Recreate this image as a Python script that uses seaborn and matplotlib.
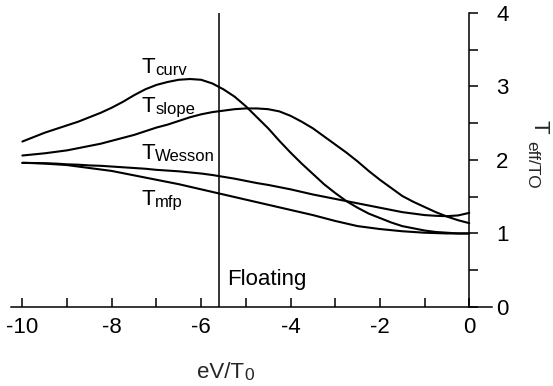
import pandas as pd
import matplotlib
matplotlib.use('Agg')
import matplotlib.pyplot as plt
import seaborn as sns
from matplotlib.ticker import MultipleLocator

sns.set_theme(style='white')
plt.rcParams['font.family'] = ['Liberation Sans', 'DejaVu Sans']
plt.rcParams['axes.unicode_minus'] = False

# data (every 0.25 in eV/T0)
ev = [-10, -9.75, -9.5, -9.25, -9, -8.75, -8.5, -8.25, -8, -7.75, -7.5,
      -7.25, -7, -6.75, -6.5, -6.25, -6, -5.75, -5.5, -5.25, -5,
      -4.75, -4.5, -4.25, -4, -3.75, -3.5, -3.25, -3, -2.75, -2.5,
      -2.25, -2, -1.75, -1.5, -1.25, -1, -0.75, -0.5, -0.25, 0]
t_curv = [2.25, 2.31, 2.37, 2.42, 2.47, 2.52, 2.58, 2.64, 2.71, 2.79, 2.88,
          2.96, 3.02, 3.06, 3.09, 3.10, 3.09, 3.04, 2.96, 2.86, 2.73,
          2.58, 2.43, 2.26, 2.10, 1.95, 1.81, 1.67, 1.55, 1.44, 1.35,
          1.27, 1.21, 1.15, 1.10, 1.07, 1.04, 1.02, 1.01, 1.00, 1.00]
t_slope = [2.06, 2.075, 2.09, 2.11, 2.13, 2.16, 2.19, 2.22, 2.26, 2.30, 2.34,
           2.39, 2.44, 2.48, 2.53, 2.58, 2.62, 2.65, 2.67, 2.69, 2.70,
           2.70, 2.69, 2.66, 2.60, 2.52, 2.43, 2.32, 2.21, 2.10, 1.98,
           1.85, 1.73, 1.62, 1.51, 1.43, 1.36, 1.29, 1.23, 1.18, 1.14]
t_wesson = [1.96, 1.958, 1.955, 1.95, 1.94, 1.935, 1.925, 1.92, 1.91, 1.90, 1.89,
            1.88, 1.865, 1.855, 1.845, 1.83, 1.815, 1.795, 1.77, 1.745, 1.715,
            1.685, 1.66, 1.63, 1.60, 1.565, 1.53, 1.50, 1.47, 1.44, 1.41,
            1.38, 1.35, 1.32, 1.29, 1.27, 1.25, 1.24, 1.235, 1.245, 1.28]
t_mfp = [1.96, 1.957, 1.95, 1.94, 1.93, 1.91, 1.89, 1.87, 1.85, 1.82, 1.79,
         1.76, 1.73, 1.70, 1.67, 1.635, 1.60, 1.565, 1.53, 1.495, 1.46,
         1.425, 1.39, 1.355, 1.32, 1.285, 1.25, 1.21, 1.17, 1.135, 1.10,
         1.08, 1.06, 1.045, 1.03, 1.02, 1.01, 1.005, 1.00, 1.00, 1.00]
v_float = -5.6

curves = {'curv': t_curv, 'slope': t_slope, 'Wesson': t_wesson, 'mfp': t_mfp}
df = pd.concat([pd.DataFrame({'eV': ev, 'T': v, 'name': k}) for k, v in curves.items()])

fig = plt.figure(figsize=(5.53, 3.86), dpi=100)
ax = fig.add_axes([0, 0.2047, 0.889, 0.762])
sns.lineplot(data=df, x='eV', y='T', hue='name', palette=['black'] * 4,
             legend=False, lw=1.5, estimator=None, ax=ax)
ax.axvline(v_float, color='black', lw=1.1)

ax.set_xlim(-10.5, 0.5)
ax.set_ylim(0, 4)
ax.set_xlabel('')
ax.set_ylabel('')

for s in ['top', 'left']:
    ax.spines[s].set_visible(False)
ax.spines['right'].set_position(('data', 0))
ax.spines['bottom'].set_bounds(-10.25, 0.5)
for s in ['right', 'bottom']:
    ax.spines[s].set_color('black')
    ax.spines[s].set_linewidth(1.1)

ax.xaxis.set_major_locator(MultipleLocator(2))
ax.xaxis.set_minor_locator(MultipleLocator(1))
ax.yaxis.tick_right()
ax.yaxis.set_major_locator(MultipleLocator(1))
ax.yaxis.set_minor_locator(MultipleLocator(0.5))
ax.tick_params(axis='x', which='both', direction='in', length=6.5, width=1.1,
               color='black', bottom=True, pad=7, labelsize=16, labelcolor='black')
ax.tick_params(axis='y', which='both', direction='out', length=6.5, width=1.1,
               color='black', right=True, left=False, pad=13, labelsize=16,
               labelcolor='black')
ax.patch.set_visible(False)

# curve labels: big T with small subscript
labels = [('curv', 3.18), ('slope', 2.65), ('Wesson', 2.01), ('mfp', 1.39)]
for sub, yb in labels:
    t = ax.text(-7.33, yb, 'T', fontsize=16, va='baseline', ha='left', color='black')
    ax.annotate(sub, xy=(1, 0), xycoords=t, va='bottom', ha='left',
                fontsize=12, color='black')

ax.text(-5.41, 0.30, 'Floating', fontsize=16, va='baseline', ha='left', color='black')

# x label
xl = fig.text(197 / 553, 1 - 378 / 386, 'eV/T', fontsize=16, va='baseline', ha='left')
ax.annotate('0', xy=(1, 0), xycoords=xl, xytext=(0.5, 0), textcoords='offset points',
            va='bottom', ha='left', fontsize=12.5, annotation_clip=False)

# y label, reads downward
fig.text(533 / 553, 1 - 120 / 386, 'T', fontsize=16, rotation=-90,
         rotation_mode='anchor', ha='left', va='baseline')
fig.text(527 / 553, 1 - 141 / 386, 'eff/TO', fontsize=12.5, rotation=-90,
         rotation_mode='anchor', ha='left', va='baseline')

fig.savefig('out.png', dpi=100)
